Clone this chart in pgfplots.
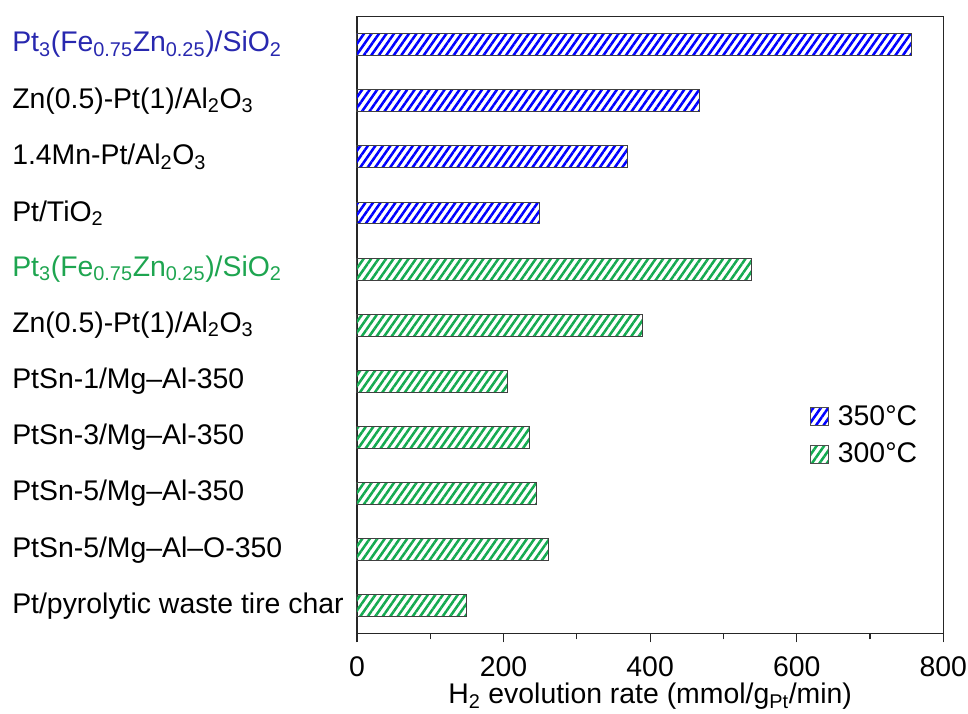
\documentclass[border=0pt]{standalone}
\usepackage{fontspec}
\setmainfont{Liberation Sans}
\usepackage{pgfplots}
\pgfplotsset{compat=1.18}
\usetikzlibrary{patterns.meta}
\definecolor{barblue}{RGB}{0,0,255}
\definecolor{bargreen}{RGB}{20,170,80}
\definecolor{labblue}{RGB}{40,40,175}
\definecolor{labgreen}{RGB}{30,165,80}
\newcommand{\lfont}{\fontsize{21.3pt}{25pt}\selectfont}
\newcommand{\sub}[1]{\textsubscript{#1}}
\begin{document}
\begin{tikzpicture}
\useasboundingbox (-267.75pt,-60.5pt) rectangle ++(726pt,535.45pt);
\begin{axis}[
  name=ax,
  at={(0,0)}, anchor=south west,
  scale only axis,
  width=439.7pt, height=462.5pt,
  xbar, bar width=0.39, bar shift=0pt,
  xmin=0, xmax=800,
  ymin=-0.49, ymax=10.5,
  xtick={0,200,400,600,800},
  minor x tick num=1,
  xtick pos=bottom,
  tick align=outside,
  major tick length=6.75pt,
  minor tick length=4.5pt,
  ytick={0,1,2,3,4,5,6,7,8,9,10},
  ytick style={draw=none},
  axis line style={black!85, line width=0.8pt},
  every tick/.style={black!85, line width=0.8pt},
  /pgf/number format/assume math mode=true,
  tick label style={font=\lfont},
  yticklabel style={anchor=west, inner sep=0pt, xshift=-252pt},
  yticklabels={
    Pt/pyrolytic waste tire char,
    PtSn-5/Mg–Al–O-350,
    PtSn-5/Mg–Al-350,
    PtSn-3/Mg–Al-350,
    PtSn-1/Mg–Al-350,
    Zn(0.5)-Pt(1)/Al\sub{2}O\sub{3},
    \textcolor{labgreen}{Pt\sub{3}(Fe\sub{0.75}Zn\sub{0.25})/SiO\sub{2}},
    Pt/TiO\sub{2},
    1.4Mn-Pt/Al\sub{2}O\sub{3},
    Zn(0.5)-Pt(1)/Al\sub{2}O\sub{3},
    \textcolor{labblue}{Pt\sub{3}(Fe\sub{0.75}Zn\sub{0.25})/SiO\sub{2}}
  },
  xticklabel style={anchor=base, inner sep=0pt, yshift=-26pt},
  xlabel={H\sub{2} evolution rate (mmol/g\sub{Pt}/min)},
  xlabel style={font=\lfont, at={(axis description cs:0.5,0)}, anchor=base, yshift=-53pt, inner sep=0pt},
  legend style={draw=none, fill=none, font=\lfont, at={(axis description cs:0.7726,0.3735)}, anchor=north west, inner sep=0pt, row sep=7.5pt, column sep=0pt, nodes={inner sep=1pt, text height=15.5pt, text depth=3pt}},
  legend cell align=left,
  legend image code/.code={\draw[#1, draw=black!70, line width=0.8pt] (0pt,-6.75pt) rectangle (13.5pt,6.75pt); \path (19pt,0pt);},
  clip=false,
]
\addplot[draw=black!75, line width=0.75pt, pattern={Lines[angle=55,distance=4.6pt,line width=1.9pt]}, pattern color=barblue]
  coordinates {(757,10) (467,9) (369,8) (249,7)};
\addlegendentry{350°C}
\addplot[draw=black!75, line width=0.75pt, pattern={Lines[angle=55,distance=4.6pt,line width=1.9pt]}, pattern color=bargreen]
  coordinates {(539,6) (389,5) (206,4) (236,3) (245,2) (262,1) (149,0)};
\addlegendentry{300°C}
\end{axis}
\end{tikzpicture}
\end{document}
